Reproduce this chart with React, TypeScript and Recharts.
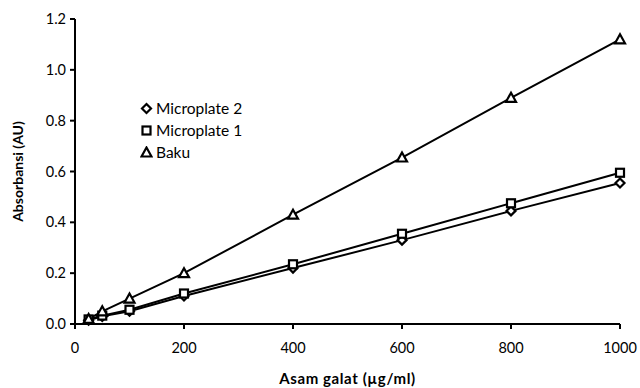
import React from 'react';
import { LineChart, Line, XAxis, YAxis } from 'recharts';

const concentrations = [25, 50, 100, 200, 400, 600, 800, 1000];
const microplate2 = [0.015, 0.03, 0.05, 0.11, 0.22, 0.33, 0.445, 0.555];
const microplate1 = [0.018, 0.033, 0.056, 0.12, 0.235, 0.355, 0.475, 0.595];
const baku = [0.02, 0.05, 0.1, 0.2, 0.43, 0.655, 0.89, 1.12];
const xTicks = [0, 200, 400, 600, 800, 1000];
const yTicks = [0, 0.2, 0.4, 0.6, 0.8, 1.0, 1.2];

const data = concentrations.map((c, i) => ({
  x: c,
  mp2: microplate2[i],
  mp1: microplate1[i],
  baku: baku[i],
}));

const FONT = 'Lato, "Open Sans", sans-serif';

const Diamond = ({ cx, cy }: any) => (
  <polygon
    points={`${cx},${cy - 4.5} ${cx + 4.5},${cy} ${cx},${cy + 4.5} ${cx - 4.5},${cy}`}
    fill="#fff"
    stroke="#000"
    strokeWidth={2.2}
  />
);

const Square = ({ cx, cy }: any) => (
  <rect x={cx - 4} y={cy - 4} width={8} height={8} fill="#fff" stroke="#000" strokeWidth={2.2} />
);

const Triangle = ({ cx, cy }: any) => (
  <polygon
    points={`${cx},${cy - 5} ${cx + 5},${cy + 4} ${cx - 5},${cy + 4}`}
    fill="#fff"
    stroke="#000"
    strokeWidth={2.2}
  />
);

const legendItems = [
  { label: 'Microplate 2', Shape: Diamond },
  { label: 'Microplate 1', Shape: Square },
  { label: 'Baku', Shape: Triangle },
];

export default function App() {
  return (
    <div style={{ position: 'absolute', left: 0, top: 0, width: 640, height: 388, background: '#fff' }}>
      <LineChart width={640} height={388} data={data} margin={{ top: 19, right: 20, left: 0, bottom: 0 }}>
        <XAxis
          dataKey="x"
          type="number"
          domain={[0, 1000]}
          ticks={xTicks}
          tickSize={5}
          tickMargin={14}
          tickLine={{ stroke: '#000', strokeWidth: 2 }}
          tick={{ fontFamily: FONT, fontSize: 14.5, fill: '#000' }}
          axisLine={{ stroke: '#000', strokeWidth: 2 }}
          height={64}
          label={{
            value: 'Asam galat  (µg/ml)',
            position: 'insideBottom',
            offset: 4,
            style: { fontFamily: FONT, fontSize: 15, fontWeight: 700, letterSpacing: 0.6, fill: '#000' },
          }}
        />
        <YAxis
          type="number"
          domain={[0, 1.2]}
          ticks={yTicks}
          tickFormatter={(v: number) => v.toFixed(1)}
          width={75}
          tickSize={5}
          tickMargin={4}
          tickLine={{ stroke: '#000', strokeWidth: 2 }}
          axisLine={{ stroke: '#000', strokeWidth: 2 }}
          tick={{ fontFamily: FONT, fontSize: 14.5, fill: '#000' }}
          label={{
            value: 'Absorbansi (AU)',
            angle: -90,
            position: 'insideLeft',
            offset: 18,
            style: { textAnchor: 'middle', fontFamily: FONT, fontSize: 14, fontWeight: 700, fill: '#000' },
          }}
        />
        <Line
          dataKey="mp2"
          stroke="#000"
          strokeWidth={2}
          isAnimationActive={false}
          dot={(p: any) => <Diamond key={`d${p.index}`} cx={p.cx} cy={p.cy} />}
        />
        <Line
          dataKey="mp1"
          stroke="#000"
          strokeWidth={2}
          isAnimationActive={false}
          dot={(p: any) => <Square key={`s${p.index}`} cx={p.cx} cy={p.cy} />}
        />
        <Line
          dataKey="baku"
          stroke="#000"
          strokeWidth={2}
          isAnimationActive={false}
          dot={(p: any) => <Triangle key={`t${p.index}`} cx={p.cx} cy={p.cy} />}
        />
      </LineChart>
      <div style={{ position: 'absolute', left: 140, top: 97, fontFamily: FONT, fontSize: 15.5, color: '#000' }}>
        {legendItems.map(({ label, Shape }) => (
          <div key={label} style={{ display: 'flex', alignItems: 'center', height: 22 }}>
            <svg width={13} height={13} style={{ marginRight: 3 }}>
              <Shape cx={6.5} cy={6.5} />
            </svg>
            <span>{label}</span>
          </div>
        ))}
      </div>
    </div>
  );
}
